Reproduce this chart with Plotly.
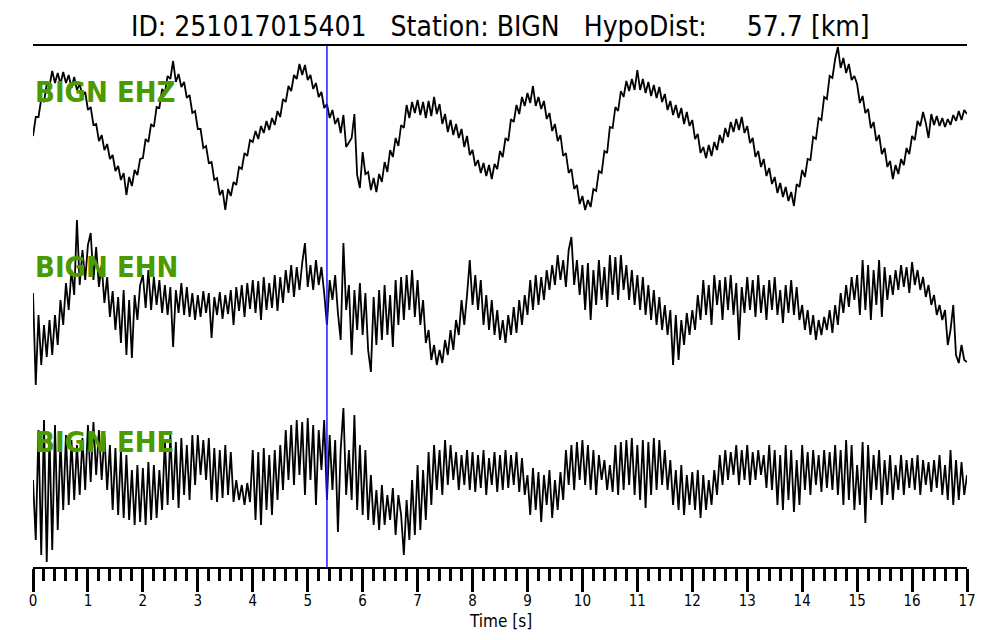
import plotly.graph_objects as go

# ---------------- data ----------------
sample_rate = 20
title_text = "ID: 251017015401   Station: BIGN   HypoDist:     57.7 [km]"
channels = ["BIGN EHZ", "BIGN EHN", "BIGN EHE"]
pick_time = 5.35
x_ticks = list(range(0, 18))

ehz = [
    -6, 13, 13, 31, 28, 46, 44, 59, 47, 57, 46, 58, 47, 55, 42, 53, 40, 46, 34, 38,
    20, 23, 5, 6, -11, -5, -20, -14, -29, -25, -41, -36, -50, -43, -65, -47, -56, -40, -45, -29,
    -28, -9, -12, 6, 3, 23, 22, 41, 37, 54, 51, 69, 48, 56, 43, 48, 32, 35, 17, 19,
    1, 1, -18, -16, -33, -32, -50, -48, -65, -60, -80, -59, -66, -52, -55, -37, -39, -23, -26, -10,
    -12, -1, -9, 4, -3, 9, 0, 12, 5, 19, 13, 31, 28, 44, 39, 55, 51, 66, 55, 65,
    50, 55, 41, 47, 33, 38, 22, 26, 12, 20, 6, 12, -3, 15, -17, -13, -8, 16, -45, -58,
    -22, -44, -42, -60, -48, -62, -44, -52, -32, -42, -20, -27, -8, -16, 5, 2, 25, 12, 28, 17,
    30, 15, 28, 12, 29, 14, 33, 16, 26, 6, 16, -2, 10, -5, 6, -8, 1, -17, -6, -25,
    -20, -36, -30, -43, -33, -46, -35, -49, -34, -39, -21, -27, -8, -11, 11, 8, 25, 16, 33, 24,
    37, 27, 44, 24, 33, 21, 29, 11, 17, -1, 6, -11, -5, -26, -23, -43, -39, -59, -55, -74,
    -66, -80, -70, -77, -59, -61, -41, -43, -21, -23, 3, 2, 23, 19, 39, 33, 49, 39, 51, 40,
    60, 40, 51, 37, 48, 34, 45, 32, 43, 28, 36, 20, 29, 15, 25, 12, 22, 6, 18, 4,
    10, -9, -4, -23, -17, -28, -15, -26, -12, -20, -5, -13, 2, -7, 8, -2, 11, 0, 13, -3,
    4, -13, -8, -27, -21, -37, -29, -46, -38, -54, -47, -63, -53, -67, -57, -71, -62, -76, -54, -57,
    -40, -47, -29, -30, -7, -9, 12, 10, 33, 31, 54, 52, 71, 83, 62, 72, 57, 66, 50, 54,
    46, 27, 34, 17, 21, 2, 8, -11, -5, -24, -18, -37, -31, -49, -35, -44, -29, -35, -18, -24,
    -6, -10, 9, 4, 18, 7, -8, 16, 5, 14, 4, 12, 3, 11, 5, 15, 9, 19, 10, 20,
    16,
]

ehn = [
    12, -80, -10, -60, -20, -52, -15, -50, -10, -40, 5, -20, 22, -5, 35, 10, 85, 20, 55, 25,
    60, 72, 25, 58, 18, 40, 2, 28, -12, 14, -25, 8, -38, 15, -50, 5, -53, 10, -15, 20,
    30, -3, 35, -5, 28, 0, 25, -8, 20, -10, 18, -42, 15, -8, 22, -10, 18, -12, 12, -15,
    10, -12, 14, -8, 12, -33, 8, -10, 13, -14, 10, -9, 15, -20, 18, -6, 20, -12, 22, -4,
    25, -8, 24, -15, 28, -5, 22, -3, 30, -6, 28, 2, 35, 12, 40, 8, 38, 15, 42, 62,
    18, 40, 15, 45, 20, 38, 12, -20, 25, 5, 30, -8, -35, 62, -5, 20, -50, 15, -25, 22,
    -30, 12, -45, -67, 8, -40, 15, -35, 20, -30, 10, -42, 25, -20, 28, -15, 30, -5, 35, -12,
    25, -20, 5, -38, -25, -55, -40, -60, -45, -58, -35, -50, -25, -45, -15, -30, 5, -20, 10, 45,
    0, 30, -5, 25, -20, 10, -25, 5, -30, -5, -35, -15, -38, -10, -30, -2, -28, 5, -20, 10,
    -10, 25, -5, 30, 0, 28, 5, 35, 15, 40, 20, 50, 25, 45, 18, 55, 68, 20, 45, 10,
    40, -5, 42, -15, 35, 0, 45, 5, 38, -2, 50, 10, 48, 5, 50, 15, 40, 5, 35, 0,
    30, -5, 28, -10, 20, -15, 15, -20, 8, -25, 0, -30, -5, -60, -10, -55, -15, -40, -8, -30,
    -5, -25, 10, -15, 25, -10, 20, -20, 30, 0, 25, -15, 28, -5, 30, -10, 22, -35, 18, -8,
    28, -5, 25, -12, 30, -8, 20, -15, 25, -5, 28, -10, 15, -18, 20, -8, 25, -10, 18, -15,
    0, -25, -5, -30, -10, -35, -15, -30, -12, -25, -5, -28, 0, -20, 12, -8, 20, -2, 28, 5,
    30, -10, 45, -5, 40, -15, 35, 0, 45, -12, 38, 5, 30, 10, 35, 15, 40, 18, 38, 12,
    43, 20, 35, 15, 28, 8, 20, 0, 10, -10, 0, -15, -5, -40, -25, 0, -50, -58, -40, -55,
    -57,
]

ehe = [
    0, -60, 50, -75, 60, -82, 45, -70, 55, -50, 40, -30, 45, -25, 40, -20, 35, -15, 42, -10,
    55, -2, 58, 5, 50, 0, 45, -10, 35, -30, 32, -35, 30, -38, 25, -40, 10, -45, 15, -42,
    12, -45, 18, -40, 15, -38, 10, -30, 40, -25, 45, -20, 38, -28, 42, -15, 35, -20, 45, -5,
    45, 5, 40, 0, 42, -20, 32, -22, 30, -18, 35, -15, 28, -22, 0, -20, -5, -25, -3, -22,
    30, -40, 28, -45, 32, -30, 25, -35, 30, -20, 35, -10, 50, 0, 55, -5, 60, 5, 58, -15,
    62, 0, 55, -25, 50, 10, 60, -20, 45, -10, 40, -52, 30, 72, -15, 30, -20, 65, -30, 35,
    -35, 30, -40, 5, -45, -10, -50, -5, -45, -15, -40, -8, -55, -15, -35, -75, -20, -60, 0, -55,
    15, -50, 10, -40, 28, -25, 35, -10, 30, -15, 40, -5, 35, 0, 28, -10, 25, -5, 30, -10,
    28, -12, 25, -8, 30, -15, 22, -5, 28, -12, 25, -10, 30, -8, 25, -5, 28, -12, 22, -15,
    5, -35, 12, -30, 8, -42, 5, -25, 10, -38, 0, -30, 8, -20, 30, -5, 35, -10, 38, 0,
    40, -5, 35, -10, 30, -15, 25, 0, 20, -10, 15, -12, 35, -15, 38, -10, 40, -5, 42, -15,
    35, -20, 40, -28, 38, -15, 42, -10, 40, -5, 30, -10, 20, -25, 10, -30, 15, -35, 5, -25,
    8, -30, 10, -38, 5, -30, 0, -25, 10, -15, 25, -5, 30, 0, 28, 5, 35, -5, 30, 0,
    35, -5, 28, 0, 30, 5, 25, -8, 35, -10, 30, -25, 25, -30, 35, -20, 30, -32, 20, -25,
    35, -10, 28, -15, 30, -5, 25, -12, 30, -8, 28, -10, 35, -15, 30, -25, 40, -20, 35, -30,
    15, -25, 38, -43, 35, -20, 25, -10, 30, -25, 20, -15, 25, -20, 15, -10, 25, -15, 20, -8,
    22, -10, 25, -15, 20, -5, 18, -12, 20, -8, 25, -15, 15, -20, 30, -25, 20, -20, 18, -15,
    5,
]

# ---------------- figure ----------------
FONT = "DejaVu Sans Condensed, DejaVu Sans, sans-serif"
offsets = [-84, -259, -434]  # vertical placement of each trace
traces = [ehz, ehn, ehe]

fig = go.Figure()
for name, vals, off in zip(channels, traces, offsets):
    t = [i / sample_rate for i in range(len(vals))]
    fig.add_trace(go.Scatter(
        x=t, y=[v + off for v in vals], mode="lines",
        line=dict(color="black", width=1.8), name=name, showlegend=False,
        hoverinfo="skip",
    ))
    fig.add_annotation(
        x=0, y=off + 38, xref="x", yref="y", text=name, showarrow=False,
        xanchor="left", yanchor="middle",
        font=dict(family=FONT, size=29, color="#4a9a00", weight="bold"),
    )

fig.add_shape(type="line", x0=pick_time, x1=pick_time, xref="x", y0=0, y1=1, yref="paper",
              line=dict(color="#1a1aff", width=1.5))

fig.add_annotation(
    x=0.5, xref="paper", y=1.0365, yref="paper", text=title_text.replace(" ", "\u00a0"),
    showarrow=False, xanchor="center", yanchor="middle",
    font=dict(family=FONT, size=28, color="black"),
)
fig.add_annotation(
    x=0.5, xref="paper", y=-0.1036, yref="paper", text="Time [s]", showarrow=False,
    xanchor="center", yanchor="middle", font=dict(family=FONT, size=17, color="black"),
)

# the page places the figure 8 px in from the top-left corner; margins compensate
fig.update_layout(
    width=1000, height=640,
    margin=dict(l=25, r=41, t=38, b=81),
    paper_bgcolor="white", plot_bgcolor="white",
    xaxis=dict(
        range=[0, 17], showgrid=False, zeroline=False,
        showline=True, linecolor="black", linewidth=2, mirror=True,
        tickmode="array", tickvals=x_ticks, ticktext=[str(v) for v in x_ticks],
        ticks="outside", ticklen=23, tickwidth=3, tickcolor="black",
        ticklabelstandoff=-4,
        tickfont=dict(family=FONT, size=15, color="black"),
        minor=dict(dtick=0.2, tick0=0, ticks="outside", ticklen=12, tickwidth=3,
                   tickcolor="black", showgrid=False),
    ),
    yaxis=dict(range=[-521, 0], visible=False, showgrid=False, zeroline=False),
)

fig.write_html("out.html")
